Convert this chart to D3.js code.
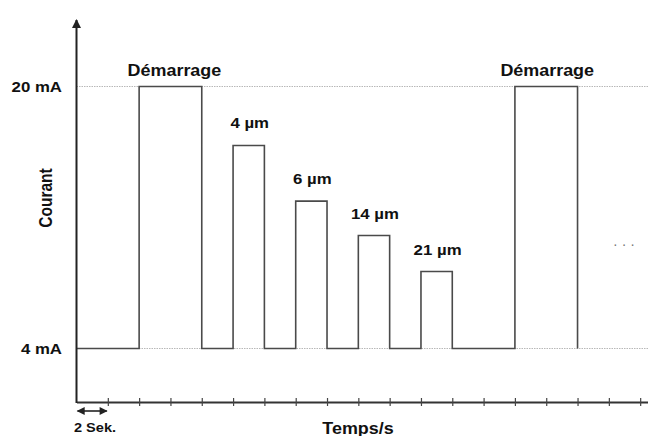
<!DOCTYPE html>
<html>
<head>
<meta charset="utf-8">
<script src="https://cdn.jsdelivr.net/npm/d3@7"></script>
<style>
  body { margin: 0; background: #fff; }
  text { font-family: "Liberation Sans", Arial, sans-serif; font-weight: bold; fill: #111; }
</style>
</head>
<body>
<svg id="chart"></svg>
<script>
const width = 648;
const height = 436;

// Pulse data (time in seconds, level in mA)
const pulseLabels = ["Démarrage", "4 µm", "6 µm", "14 µm", "21 µm", "Démarrage"];
const pulseStart = [4, 10, 14, 18, 22, 28];
const pulseEnd = [8, 12, 16, 20, 24, 32];
const pulseLevel = [20, 16.4, 13, 10.9, 8.7, 20];
const baseLevel = 4;
const levelTicks = [4, 20];
const levelLabels = ["4 mA", "20 mA"];

const STRETCH = 1.12; // text in the picture is a bit wide

const svg = d3.select("#chart")
              .attr("width", width)
              .attr("height", height);

// Scales
const x = d3.scaleLinear().domain([0, 36.5]).range([76.5, 648]);
const y = d3.scaleLinear().domain([4, 20]).range([348.5, 86.5]);
const axisY = 402;

// Gridlines (dotted)
svg.selectAll(".grid")
   .data(levelTicks)
   .enter()
   .append("line")
   .attr("x1", x(0)).attr("x2", width)
   .attr("y1", d => y(d)).attr("y2", d => y(d))
   .attr("stroke", "#b8b8b8")
   .attr("stroke-width", 1)
   .attr("stroke-dasharray", "1.5,1");

// Waveform as step points
const pts = [[0, baseLevel]];
pulseStart.forEach((s, i) => {
  pts.push([s, baseLevel], [s, pulseLevel[i]], [pulseEnd[i], pulseLevel[i]], [pulseEnd[i], baseLevel]);
});
const line = d3.line().x(d => x(d[0])).y(d => y(d[1]));
svg.append("path")
   .attr("d", line(pts))
   .attr("fill", "none")
   .attr("stroke", "#4a4a4a")
   .attr("stroke-width", 1.6);

// X axis with small ticks crossing the line
const xAxis = d3.axisBottom(x)
                .tickValues(d3.range(2, 37, 2))
                .tickSize(0)
                .tickFormat("");
const gx = svg.append("g")
              .attr("transform", `translate(0, ${axisY})`)
              .call(xAxis);
gx.select(".domain").attr("stroke", "#333").attr("stroke-width", 2);
gx.selectAll(".tick line")
  .attr("y1", -4).attr("y2", 4)
  .attr("stroke", "#444").attr("stroke-width", 1.2);

// Y axis with arrow
const defs = svg.append("defs");
defs.append("marker")
   .attr("id", "arrowUp")
   .attr("viewBox", "0 0 10 10")
   .attr("refX", 5).attr("refY", 1)
   .attr("markerWidth", 9).attr("markerHeight", 10)
   .attr("markerUnits", "userSpaceOnUse")
   .attr("orient", "0")
   .append("path")
   .attr("d", "M0,10 L5,0 L10,10 Z")
   .attr("fill", "#222");
svg.append("line")
   .attr("x1", x(0)).attr("x2", x(0))
   .attr("y1", axisY + 1).attr("y2", 20)
   .attr("stroke", "#222").attr("stroke-width", 2)
   .attr("marker-end", "url(#arrowUp)");

// helper to widen text like in the picture
function stretch(sel) {
  sel.each(function() {
    const w = this.getComputedTextLength();
    d3.select(this).attr("textLength", w * STRETCH).attr("lengthAdjust", "spacingAndGlyphs");
  });
}

// Level labels
svg.selectAll(".lvl")
   .data(levelTicks)
   .enter()
   .append("text")
   .attr("x", 62)
   .attr("y", d => y(d))
   .attr("dy", "0.35em")
   .attr("text-anchor", "end")
   .attr("font-size", 15)
   .text((d, i) => levelLabels[i])
   .call(stretch);

// Pulse labels
svg.selectAll(".plabel")
   .data(pulseLabels)
   .enter()
   .append("text")
   .attr("x", (d, i) => x((pulseStart[i] + pulseEnd[i]) / 2) + (i === 0 ? 4 : 1))
   .attr("y", (d, i) => y(pulseLevel[i]) - (pulseLevel[i] === 20 ? 11 : 17))
   .attr("text-anchor", "middle")
   .attr("font-size", (d, i) => pulseLevel[i] === 20 ? 16 : 15)
   .text(d => d)
   .call(stretch);

// Axis titles
svg.append("text")
   .attr("transform", "translate(51.5, 198) scale(1.15, 1) rotate(-90)")
   .attr("text-anchor", "middle")
   .attr("font-size", 15.5)
   .text("Courant");

svg.append("text")
   .attr("x", 358)
   .attr("y", 434)
   .attr("text-anchor", "middle")
   .attr("font-size", 16)
   .text("Temps/s")
   .call(stretch);

// 2 second scale marker
defs.append("marker")
   .attr("id", "arrowHead")
   .attr("viewBox", "0 0 10 10")
   .attr("refX", 9).attr("refY", 5)
   .attr("markerWidth", 9).attr("markerHeight", 8)
   .attr("markerUnits", "userSpaceOnUse")
   .attr("orient", "auto-start-reverse")
   .append("path")
   .attr("d", "M0,0 L10,5 L0,10 Z")
   .attr("fill", "#222");
svg.append("line")
   .attr("x1", x(0) + 1).attr("x2", x(2) - 1)
   .attr("y1", 411).attr("y2", 411)
   .attr("stroke", "#222").attr("stroke-width", 1.6)
   .attr("marker-start", "url(#arrowHead)")
   .attr("marker-end", "url(#arrowHead)");
svg.append("text")
   .attr("x", 95)
   .attr("y", 432)
   .attr("text-anchor", "middle")
   .attr("font-size", 13)
   .text("2 Sek.")
   .call(stretch);

// continuation dots
svg.append("text")
   .attr("x", 624)
   .attr("y", 249)
   .attr("text-anchor", "middle")
   .attr("font-size", 14)
   .style("font-weight", "normal")
   .style("fill", "#777")
   .text("· · ·");
</script>
</body>
</html>
